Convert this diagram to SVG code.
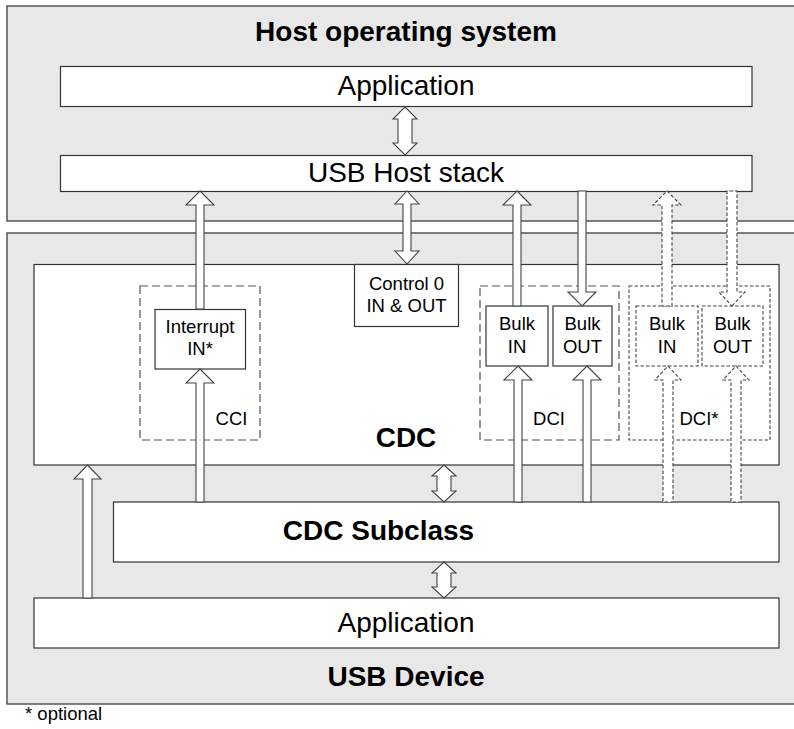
<svg xmlns="http://www.w3.org/2000/svg" width="794" height="729" viewBox="0 0 794 729">
<style>
.frame{fill:#e8e8e8;stroke:#555;stroke-width:1.5}
.box{fill:#fff;stroke:#333;stroke-width:1.2}
.dash{fill:none;stroke:#555;stroke-width:1.2;stroke-dasharray:8,4}
.dot{fill:none;stroke:#444;stroke-width:1.1;stroke-dasharray:3.5,2}
.dotbox{fill:#fff;stroke:#444;stroke-width:1.1;stroke-dasharray:3.5,2}
.arr{fill:#fff;stroke:#444;stroke-width:1.1;stroke-linejoin:miter}
.arrd{fill:#fff;stroke:#444;stroke-width:1.1;stroke-dasharray:3.5,2}
text{font-family:"Liberation Sans",Arial,sans-serif;fill:#000;text-anchor:middle}
.big{font-size:28px}
.bold{font-size:28px;font-weight:bold}
.sm{font-size:18.5px}
</style>
<g id="host-os">
<rect class="frame" x="7" y="6" width="800" height="215"/>
<text class="bold" x="406" y="41">Host operating system</text>
</g>
<g id="usb-device">
<rect class="frame" x="7" y="233" width="800" height="471"/>
<text class="bold" x="406" y="686">USB Device</text>
</g>
<g id="host-app">
<rect class="box" x="60.5" y="66.5" width="691.5" height="40"/>
<text class="big" x="406" y="95">Application</text>
</g>
<g id="host-stack">
<rect class="box" x="60.5" y="155.5" width="691.5" height="36"/>
<text class="big" x="406" y="182">USB Host stack</text>
</g>
<g id="cdc">
<rect class="box" x="34" y="264.5" width="745" height="200.5"/>
<text class="bold" x="406" y="447">CDC</text>
</g>
<g id="control0">
<rect class="box" x="354.5" y="264.5" width="104" height="62"/>
<text class="sm" x="406.5" y="290">Control 0</text>
<text class="sm" x="406.5" y="312">IN &amp; OUT</text>
</g>
<g id="cci">
<rect class="dash" x="140" y="286" width="120" height="154"/>
<text class="sm" x="231.5" y="425">CCI</text>
</g>
<g id="interrupt-in">
<rect class="box" x="155" y="309.5" width="90.5" height="59.5"/>
<text class="sm" x="200" y="333">Interrupt</text>
<text class="sm" x="200" y="355">IN*</text>
</g>
<g id="dci">
<rect class="dash" x="480" y="286" width="139" height="154"/>
<text class="sm" x="549" y="425">DCI</text>
</g>
<g id="bulk-in">
<rect class="box" x="486" y="306" width="62" height="60"/>
<text class="sm" x="517" y="330">Bulk</text>
<text class="sm" x="517" y="353">IN</text>
</g>
<g id="bulk-out">
<rect class="box" x="553" y="306" width="59" height="60"/>
<text class="sm" x="582.5" y="330">Bulk</text>
<text class="sm" x="582.5" y="353">OUT</text>
</g>
<g id="dci-opt">
<rect class="dot" x="629" y="286" width="141" height="154"/>
<text class="sm" x="699" y="425">DCI*</text>
</g>
<g id="bulk-in-opt">
<rect class="dotbox" x="636" y="306" width="62" height="60"/>
<text class="sm" x="667" y="330">Bulk</text>
<text class="sm" x="667" y="353">IN</text>
</g>
<g id="bulk-out-opt">
<rect class="dotbox" x="702" y="306" width="61" height="60"/>
<text class="sm" x="732.5" y="330">Bulk</text>
<text class="sm" x="732.5" y="353">OUT</text>
</g>
<g id="cdc-subclass">
<rect class="box" x="113.5" y="502" width="665.5" height="60"/>
<text class="bold" x="378.5" y="540">CDC Subclass</text>
</g>
<g id="device-app">
<rect class="box" x="34" y="598" width="745" height="50"/>
<text class="big" x="406" y="632">Application</text>
</g>
<g id="connectors">
<path class="arr" d="M405,107 L417,119 L412,119 L412,143 L417,143 L405,155 L393,143 L398,143 L398,119 L393,119 Z"/>
<path class="arr" d="M407,191 L419,204 L411,204 L411,251 L419,251 L407,264 L395,251 L403,251 L403,204 L395,204 Z"/>
<path class="arr" d="M200,191 L214,205 L204,205 L204,309 L196,309 L196,205 L186,205 Z"/>
<path class="arr" d="M200,369 L214,383 L204,383 L204,502 L196,502 L196,383 L186,383 Z"/>
<path class="arr" d="M517,191 L531,205 L521,205 L521,306 L513,306 L513,205 L503,205 Z"/>
<path class="arr" d="M582,306 L596,292 L586,292 L586,191 L578,191 L578,292 L568,292 Z"/>
<path class="arr" d="M518,366 L532,380 L522,380 L522,502 L514,502 L514,380 L504,380 Z"/>
<path class="arr" d="M587,366 L601,380 L591,380 L591,502 L583,502 L583,380 L573,380 Z"/>
<path class="arrd" d="M667,191 L681,205 L672,205 L672,306 L662,306 L662,205 L653,205 Z"/>
<path class="arrd" d="M732,306 L745,292 L737,292 L737,191 L727,191 L727,292 L719,292 Z"/>
<path class="arrd" d="M668,366 L681,380 L673,380 L673,502 L663,502 L663,380 L655,380 Z"/>
<path class="arrd" d="M736,366 L749,380 L741,380 L741,502 L731,502 L731,380 L723,380 Z"/>
<path class="arr" d="M87.5,465 L101,479 L92,479 L92,598 L83,598 L83,479 L74,479 Z"/>
<path class="arr" d="M444,465 L456,476 L451,476 L451,491 L456,491 L444,502 L432,491 L437,491 L437,476 L432,476 Z"/>
<path class="arr" d="M444,562 L456,573 L451,573 L451,587 L456,587 L444,598 L432,587 L437,587 L437,573 L432,573 Z"/>
</g>
<text class="sm" x="25" y="720" style="text-anchor:start">* optional</text>
</svg>
